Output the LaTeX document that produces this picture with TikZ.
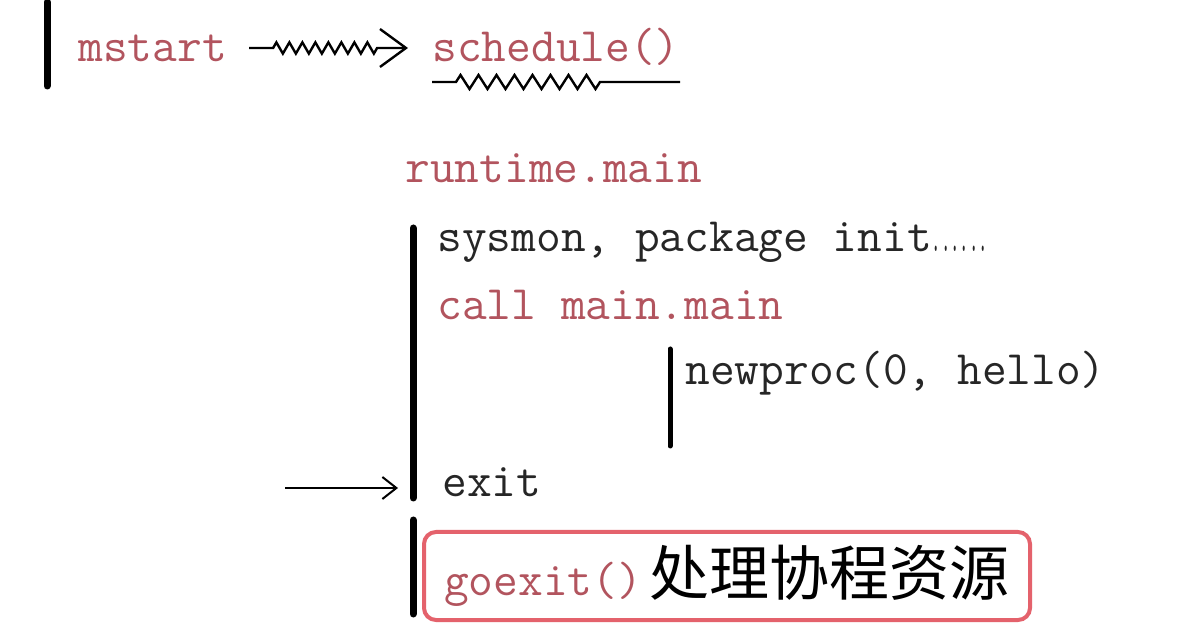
\documentclass[tikz,border=0pt]{standalone}
\usepackage{fontspec}
\newfontfamily\cjkfont{Noto Sans CJK SC}
\usetikzlibrary{arrows.meta,decorations.pathmorphing}
\definecolor{codered}{RGB}{178,84,94}
\definecolor{boxred}{RGB}{228,98,108}
\definecolor{inkgray}{RGB}{38,38,38}

\begin{document}
\begin{tikzpicture}[x=0.5pt,y=-0.5pt,
  code/.style={inner sep=0pt,anchor=base west,font=\ttfamily\fontsize{24}{28}\selectfont},
  fn/.style={code,text=codered},
  plain/.style={code,text=inkgray},
  bar/.style={line width=3.5pt,line cap=round},
  thinbar/.style={line width=2.5pt,line cap=round},
  squig/.style={line width=1.2pt,decorate,
    decoration={zigzag,amplitude=2.8pt,segment length=6.5pt,pre length=12pt,post length=14pt}},
  bigtip/.style={-{Straight Barb[length=13pt,width=19pt,line width=1.2pt]}},
  smalltip/.style={-{Straight Barb[length=7pt,width=11pt,line width=1pt]}}]
\useasboundingbox (0,0) rectangle (1188,640);
\fill[white] (0,0) rectangle (1188,640);

% top line
\draw [bar] (47,2) -- (47,86);
\node [fn] (mstart) at (78,62) {mstart};
\node [fn] (sched) at (432,62) {schedule()};
\draw [squig,bigtip] ([xshift=11pt,yshift=7pt]mstart.base east) -- ([xshift=-12pt,yshift=7pt]sched.base west);
\draw [line width=1.2pt,decorate,
  decoration={zigzag,amplitude=3.5pt,segment length=9pt,pre length=12pt,post length=36pt}]
  ([yshift=-10pt]sched.base west) -- ([yshift=-10pt]sched.base east);

% runtime.main
\node [fn] (rtmain) at (405,183) {runtime.main};
\draw [bar] (413,228) -- (413,498);
\node [plain] (sysmon) at (437,252) {sysmon, package init\scalebox{0.38}[1]{......}};
\node [fn] (callmain) at (437,320) {call main.main};
\draw [thinbar] (670,349) -- (670,446);
\node [plain] (newproc) at (685,385) {newproc(0, hello)};
\node [plain] (exit) at (442,497) {exit};
\coordinate (exitfrom) at (285,488);
\coordinate (exitto) at (398,488);
\draw [line width=1pt,smalltip] (exitfrom) -- (exitto);

% goexit
\draw [bar] (413,520) -- (413,614);
\node [draw=boxred,line width=2pt,rounded corners=6pt,anchor=west,
  minimum height=44pt,minimum width=303pt,inner xsep=8pt,align=left,
  font=\ttfamily\fontsize{24}{28}\selectfont] (goexit) at (422,576)
  {\textcolor{codered}{goexit()}\hspace{4pt}{\cjkfont\fontsize{30}{34}\selectfont 处理协程资源}\hfill};
\end{tikzpicture}
\end{document}
